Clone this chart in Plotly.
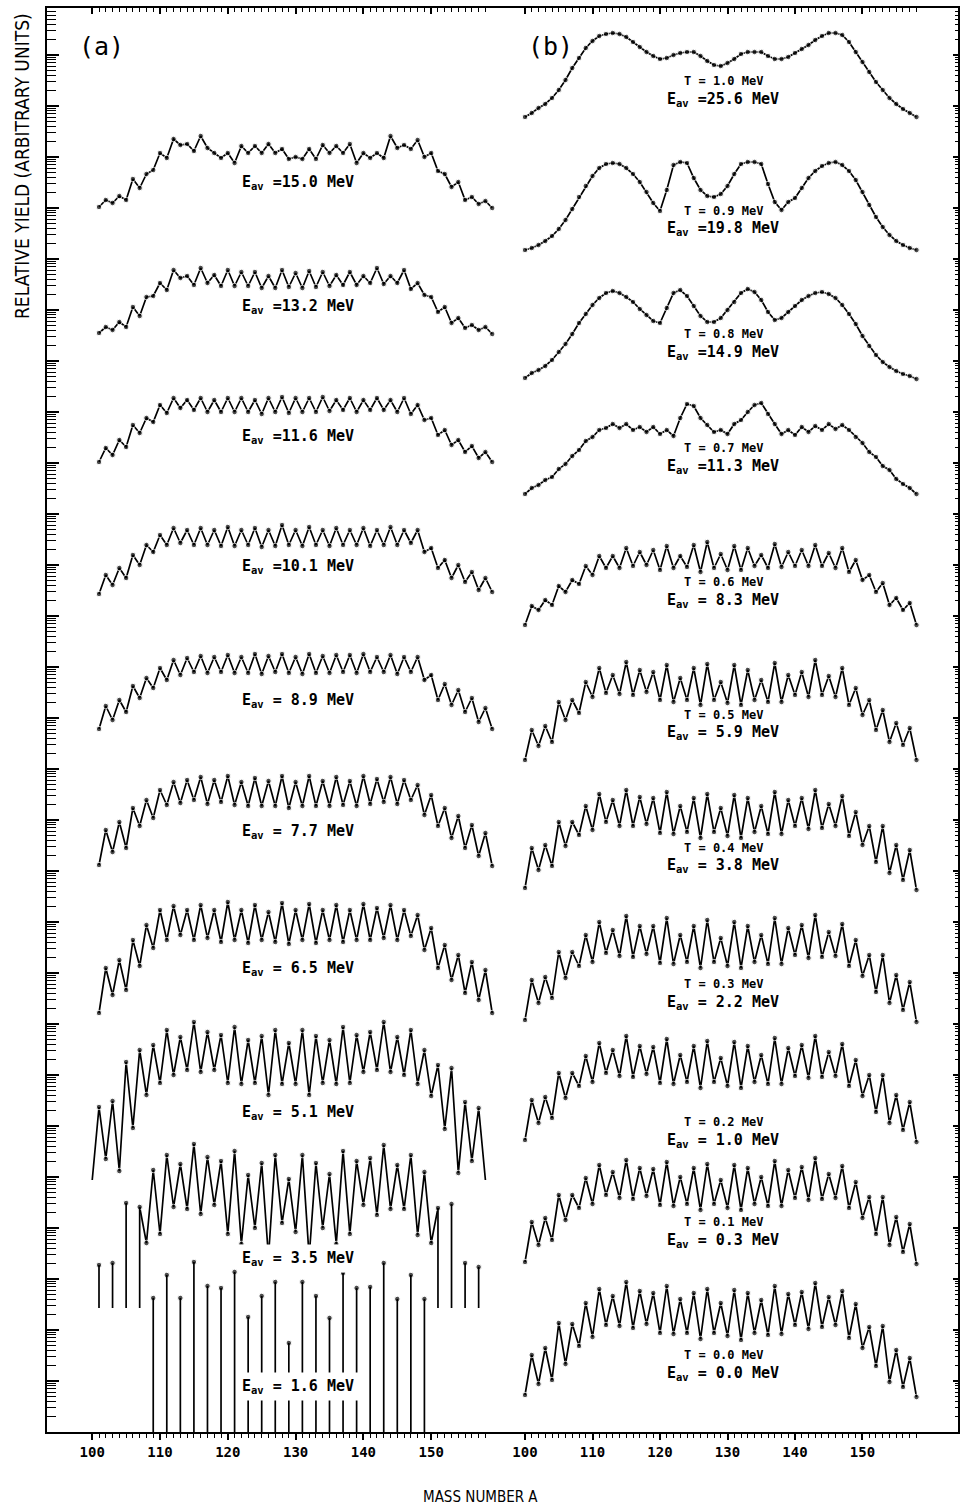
import math
import plotly.graph_objects as go

N = None
A_A = list(range(100, 160))   # panel (a) mass numbers (as placed on its axis)
A_B = list(range(100, 159))   # panel (b) mass numbers

# ---------- panel (a): relative log-yields, arbitrary units ----------
Y_A150 = [N,1225,1232,1229,1236,1232,1253,1244,1258,1262,1279,
          1274,1293,1287,1288,1281,1296,1284,1279,1274,1279,
          1269,1286,1279,1286,1279,1288,1279,1283,1273,1275,
          1273,1283,1273,1287,1279,1286,1279,1288,1269,1279,
          1274,1279,1274,1296,1284,1287,1283,1292,1275,1279,
          1261,1258,1245,1250,1232,1235,1228,1231,1224]
Y_A132 = [N,0,6,3,11,6,26,17,36,37,50,
          43,63,55,57,48,65,50,58,47,63,
          47,61,47,61,45,57,45,63,46,60,
          45,62,46,61,47,58,48,61,48,57,
          50,65,49,57,50,63,44,50,38,36,
          21,26,10,15,5,8,3,6,-1]
Y_A116 = [N,0,14,7,22,15,37,29,44,40,57,
          49,64,54,62,52,64,50,62,50,64,
          50,64,50,62,48,64,50,65,49,64,
          50,64,50,65,51,62,52,64,50,62,
          52,64,52,62,50,64,48,57,42,44,
          27,32,17,22,10,16,4,10,0]
Y_A101 = [N,0,19,9,26,16,39,29,49,42,59,
          49,66,51,64,49,66,49,64,48,67,
          48,64,49,66,47,64,48,69,49,64,
          48,67,49,64,48,66,49,64,49,66,
          48,64,49,67,49,64,51,64,42,46,
          26,34,16,29,12,22,4,16,2]
Y_A089 = [N,0,23,9,29,17,43,31,51,41,61,
          49,69,54,71,57,73,56,72,57,74,
          56,72,56,75,55,73,57,75,56,72,
          55,75,56,73,56,74,57,74,56,75,
          57,72,57,74,55,72,57,72,49,54,
          29,45,24,39,17,31,7,21,0]
Y_A077 = [N,0,35,13,43,17,57,39,65,47,75,
          60,83,62,85,65,88,61,85,63,89,
          60,83,59,87,59,84,59,89,57,83,
          59,89,59,84,59,88,60,84,59,89,
          61,86,63,88,61,85,65,80,50,70,
          39,57,27,49,17,40,9,32,-1]
Y_A065 = [N,0,45,18,53,23,73,47,88,65,103,
          73,107,78,103,73,108,75,103,71,111,
          73,103,70,108,73,101,71,110,69,103,
          73,109,70,103,73,108,71,103,73,109,
          73,105,75,108,73,103,77,98,63,85,
          45,68,33,58,20,51,13,43,0]
Y_A051 = [0,73,21,79,9,118,52,130,85,135,
          97,150,105,143,110,158,108,148,110,145,
          97,153,96,140,97,144,85,150,96,137,
          96,150,85,144,97,140,96,153,97,145,
          108,148,110,158,108,143,105,150,96,130,
          84,115,51,112,7,78,19,72,0,N]
Y_A035 = [N,167,N,169,N,229,N,225,189,262,198,
          277,225,268,223,288,218,275,227,271,198,
          281,188,257,204,269,175,277,209,253,200,
          277,175,269,204,258,188,281,198,271,227,
          274,217,287,223,267,223,277,197,260,189,
          224,N,228,N,169,N,165,N,N]
Y_A016 = [N,N,N,N,N,N,N,N,N,134,N,
          157,N,134,N,170,N,146,N,144,N,
          160,N,115,N,136,N,150,N,89,N,
          150,N,136,N,114,N,159,N,144,N,
          145,N,169,N,133,N,157,N,133,N,
          N,N,N,N,N,N,N,N,N]

# ---------- panel (b) ----------
Y_B10 = [1315,1319,1324,1328,1334,1342,1352,1364,1374,1384,
         1391,1396,1398,1399,1398,1395,1390,1385,1380,1376,
         1373,1374,1377,1379,1380,1380,1376,1371,1367,1366,
         1369,1373,1378,1380,1380,1380,1376,1373,1373,1375,
         1379,1383,1387,1392,1396,1399,1399,1397,1390,1380,
         1370,1360,1350,1342,1334,1328,1323,1319,1315]
Y_B09 = [0,2,5,9,14,21,30,41,53,64,
         74,82,86,87,86,82,76,68,58,47,
         39,60,85,88,87,72,60,54,53,56,
         64,76,86,88,88,86,66,48,40,48,
         52,62,72,79,84,87,88,85,79,70,
         58,45,33,23,15,9,5,2,0]
Y_B08 = [0,5,8,12,18,26,34,44,55,64,
         73,80,85,87,85,81,76,69,63,57,
         55,70,85,88,82,72,62,56,56,60,
         68,76,85,89,86,78,66,58,60,66,
         72,78,82,85,86,84,80,73,64,54,
         42,32,23,16,11,7,4,2,-1]
Y_B07 = [0,6,9,14,17,25,30,38,44,53,
         57,64,66,70,66,70,64,67,62,67,
         60,64,58,76,90,88,76,69,62,64,
         60,70,74,82,89,91,80,70,60,64,
         59,67,62,68,64,70,65,69,64,57,
         51,42,37,28,24,15,10,6,0]
Y_B06 = [0,19,15,25,20,39,33,45,41,59,
         50,69,57,69,57,77,59,73,60,75,
         55,79,57,69,58,80,53,83,57,71,
         55,79,55,77,59,70,57,81,58,73,
         59,75,59,80,59,72,57,77,53,65,
         45,50,33,42,20,27,15,22,0]
Y_B05 = [0,30,14,34,18,58,40,60,47,78,
         63,92,67,85,66,98,65,90,68,88,
         60,95,58,82,60,92,55,96,60,78,
         57,95,55,90,60,80,58,97,58,85,
         65,88,63,100,65,84,63,92,55,72,
         45,60,30,50,18,37,15,32,0]
Y_B04 = [0,40,18,43,22,66,42,66,53,82,
         58,94,66,88,62,98,62,91,64,90,
         55,96,54,82,56,90,50,94,56,80,
         52,93,50,90,56,82,54,96,54,88,
         62,90,59,98,60,84,62,92,52,76,
         43,62,26,62,15,43,8,38,-2]
Y_B03 = [0,40,17,43,22,68,42,68,54,85,
         58,98,67,90,64,104,63,94,66,94,
         57,102,56,85,58,94,52,100,58,82,
         54,98,52,94,58,85,56,102,56,92,
         65,95,62,105,63,88,64,96,54,80,
         44,65,28,65,17,45,10,38,-2]
Y_B02 = [0,40,17,43,22,67,42,67,54,84,
         58,97,67,90,64,104,63,94,66,93,
         57,101,56,85,58,94,52,99,58,82,
         54,98,52,94,58,85,56,102,56,92,
         64,95,62,104,63,88,64,96,54,80,
         44,65,28,65,17,45,10,38,-2]
Y_B01 = [0,40,17,44,22,67,42,67,54,84,
         58,97,67,90,64,102,63,94,66,93,
         57,100,56,85,58,94,52,98,58,82,
         54,97,52,94,58,85,56,101,56,92,
         64,95,62,104,63,88,64,96,54,80,
         44,65,28,65,17,45,10,38,-2]
Y_B00 = [37,77,48,84,52,109,68,108,86,129,
         95,143,107,136,106,150,104,141,108,139,
         99,146,98,133,99,139,93,143,99,129,
         96,142,92,139,99,132,97,146,98,138,
         107,140,103,149,105,135,107,141,94,128,
         84,105,66,106,50,82,45,74,35]

E_A = ["15.0", "13.2", "11.6", "10.1", "8.9", "7.7", "6.5", "5.1", "3.5", "1.6"]
E_B = ["25.6", "19.8", "14.9", "11.3", "8.3", "5.9", "3.8", "2.2", "1.0", "0.3", "0.0"]
T_B = ["1.0", "0.9", "0.8", "0.7", "0.6", "0.5", "0.4", "0.3", "0.2", "0.1", "0.0"]
SERIES_A = [Y_A150, Y_A132, Y_A116, Y_A101, Y_A089, Y_A077, Y_A065,
            Y_A051, Y_A035, Y_A016]
SERIES_B = [Y_B10, Y_B09, Y_B08, Y_B07, Y_B06, Y_B05, Y_B04, Y_B03,
            Y_B02, Y_B01, Y_B00]

# ---------- display stacking / styling ----------
SHIFT_A = [0, 1099, 970, 838, 703, 567, 419, 252, 0, 0]
SHIFT_B = [0, 1182, 1054, 938, 807, 672, 544, 412, 292, 170, 0]
FLOOR_A = [0, 0, 0, 0, 0, 0, 0, 252, 124, 0]
STICK_A = [False] * 8 + [True, True]
HIDE_A = [[], [], [], [], [], [], [], [100, 158], [], []]
LAB_A_Y = [182, 306, 437, 566, 700, 831, 968, 1112, 1258, 1386]
BG_A = [False] * 8 + [True, True]
LAB_B_Y = [99, 229, 352, 466, 600, 733, 866, 1002, 1140, 1240, 1373]

W, H = 961, 1506
ML, MR, MT, MB = 47, 3, 8, 74
PW, PH = W - ML - MR, H - MT - MB
SPLIT = 508
DA = (SPLIT - ML) / PW
MONO = "DejaVu Sans Mono"
NARROW = "Liberation Sans Narrow, DejaVu Sans Condensed, Liberation Sans"

# log-style decoration ticks on the vertical frame
DEC = 51.0
y_major, y_minor = [], []
n = 0
while n * DEC <= PH + 0.1:
    y_major.append(n * DEC)
    for k in range(2, 10):
        v = (n + math.log10(k)) * DEC
        if v <= PH:
            y_minor.append(v)
    n += 1


def px(xp):
    return (xp - ML) / PW


def py(yp):
    return (H - MB - yp) / PH


fig = go.Figure()
layout = dict(width=W, height=H, margin=dict(l=ML, r=MR, t=MT, b=MB),
              paper_bgcolor="white", plot_bgcolor="white", showlegend=False)

majors = [100, 110, 120, 130, 140, 150]
minors = list(range(100, 159))
tickfont = dict(family=MONO, size=14, color="black", weight="bold")
base_x = dict(showline=True, linecolor="black", linewidth=2, showgrid=False,
              zeroline=False, ticks="outside", tickmode="array", tickvals=majors,
              ticktext=[str(v) for v in majors], ticklen=6, tickwidth=1.5,
              tickcolor="black", tickfont=tickfont,
              minor=dict(tickmode="array", tickvals=minors, ticks="outside",
                         ticklen=4, tickwidth=1, tickcolor="black"),
              fixedrange=True)
RA = [93.33, 161.33]
RB = [97.48, 164.15]
layout["xaxis"] = dict(base_x, domain=[0, DA], range=RA, anchor="y")
layout["xaxis2"] = dict(base_x, domain=[DA, 1], range=RB, anchor="y")
top_x = dict(base_x, side="top", ticks="inside", showticklabels=False,
             minor=dict(tickmode="array", tickvals=minors, ticks="inside",
                        ticklen=4, tickwidth=1, tickcolor="black"))
layout["xaxis3"] = dict(top_x, overlaying="x", range=RA, anchor="y")
layout["xaxis4"] = dict(top_x, overlaying="x2", range=RB, anchor="y")

base_y = dict(range=[0, PH], showline=True, linecolor="black", linewidth=2,
              showgrid=False, zeroline=False, ticks="inside", tickmode="array",
              tickvals=y_major, ticklen=12, tickwidth=1.6, tickcolor="black",
              showticklabels=False,
              minor=dict(tickmode="array", tickvals=y_minor, ticks="inside",
                         ticklen=9, tickwidth=1.3, tickcolor="black"),
              fixedrange=True)
layout["yaxis"] = dict(base_y, domain=[0, 1], anchor="x")
layout["yaxis2"] = dict(base_y, overlaying="y", side="right", anchor="x2",
                        ticklen=5,
                        minor=dict(tickmode="array", tickvals=y_minor,
                                   ticks="inside", ticklen=3, tickwidth=1,
                                   tickcolor="black"))

# helper traces so that the overlaid frame axes get drawn
for xa, ya in (("x3", "y"), ("x4", "y"), ("x2", "y2")):
    fig.add_trace(go.Scatter(x=[N], y=[N], xaxis=xa, yaxis=ya, mode="markers",
                             hoverinfo="skip", showlegend=False))

annotations = []


def add_curve(xs, vals, shift, floor, sticks, hide, xaxis):
    ys = [None if v is None else v + shift for v in vals]
    sizes = [0 if x in hide else 5.5 for x in xs]
    fig.add_trace(go.Scatter(x=xs, y=ys, xaxis=xaxis, yaxis="y",
                             mode="lines+markers", connectgaps=False,
                             line=dict(color="black", width=1.7),
                             marker=dict(color="black", size=sizes),
                             hoverinfo="skip"))
    if not sticks:
        return
    sx, sy = [], []
    n = len(ys)
    for i, v in enumerate(ys):
        if v is None:
            continue
        left_gap = i > 0 and ys[i - 1] is None
        right_gap = i < n - 1 and ys[i + 1] is None
        if left_gap or right_gap:
            sx += [xs[i], xs[i], None]
            sy += [floor, v, None]
    fig.add_trace(go.Scatter(x=sx, y=sy, xaxis=xaxis, yaxis="y", mode="lines",
                             line=dict(color="black", width=1.7),
                             hoverinfo="skip"))


def e_text(e):
    sp = "\u00a0"
    if len(e) == 3:
        return "E<sub>av</sub>" + sp + "=" + sp + e + sp + "MeV"
    return "E<sub>av</sub>" + sp + "=" + e + sp + "MeV"


for vals, sh, fl, st, hd, e, ly, bg in zip(SERIES_A, SHIFT_A, FLOOR_A, STICK_A,
                                           HIDE_A, E_A, LAB_A_Y, BG_A):
    add_curve(A_A, vals, sh, fl, st, hd, "x")
    ann = dict(x=px(298), y=py(ly), xref="paper", yref="paper",
               text=e_text(e), showarrow=False, xanchor="center",
               yanchor="middle",
               font=dict(family=MONO, size=15, color="black", weight="bold"))
    if bg:
        ann["bgcolor"] = "white"
        ann["borderpad"] = 4
    annotations.append(ann)

for vals, sh, e, t, ly in zip(SERIES_B, SHIFT_B, E_B, T_B, LAB_B_Y):
    add_curve(A_B, vals, sh, 0, False, [], "x2")
    annotations.append(dict(x=px(723), y=py(ly), xref="paper", yref="paper",
                            text=e_text(e), showarrow=False, xanchor="center",
                            yanchor="middle",
                            font=dict(family=MONO, size=15, color="black",
                                      weight="bold")))
    annotations.append(dict(x=px(723), y=py(ly - 18), xref="paper",
                            yref="paper",
                            text="T\u00a0=\u00a0" + t + "\u00a0MeV",
                            showarrow=False, xanchor="center", yanchor="middle",
                            font=dict(family=MONO, size=12, color="black",
                                      weight="bold")))

annotations += [
    dict(x=px(101), y=py(46), xref="paper", yref="paper", text="(a)",
         showarrow=False, xanchor="center", yanchor="middle",
         font=dict(family=MONO, size=25, color="black")),
    dict(x=px(550), y=py(46), xref="paper", yref="paper", text="(b)",
         showarrow=False, xanchor="center", yanchor="middle",
         font=dict(family=MONO, size=25, color="black")),
    dict(x=px(480), y=py(1497), xref="paper", yref="paper",
         text="MASS NUMBER A", showarrow=False, xanchor="center",
         yanchor="middle", font=dict(family=NARROW, size=15, color="black")),
    dict(x=px(22), y=py(166), xref="paper", yref="paper",
         text="RELATIVE YIELD (ARBITRARY UNITS)", textangle=-90,
         showarrow=False, xanchor="center", yanchor="middle",
         font=dict(family=NARROW, size=19, color="black")),
]
layout["annotations"] = annotations
fig.update_layout(**layout)
fig.write_html("out.html")
